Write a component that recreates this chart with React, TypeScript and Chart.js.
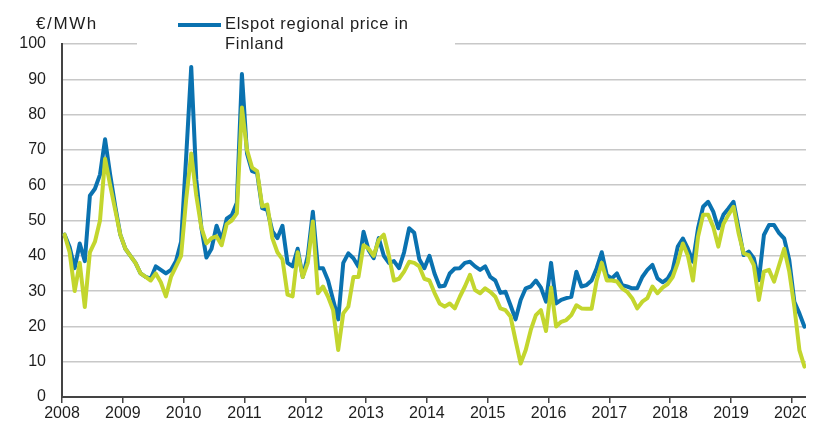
import React, { useEffect, useRef } from "react";
import { Chart, registerables } from "chart.js";

Chart.register(...registerables);

const yearTicks = ["2008", "2009", "2010", "2011", "2012", "2013", "2014", "2015", "2016", "2017", "2018", "2019", "2020"];
const yTicks = [0, 10, 20, 30, 40, 50, 60, 70, 80, 90, 100];

// Monthly averages, Jan 2008 - Mar 2020 (EUR/MWh)
const finlandPrice = [
  46, 42.5, 36.5, 43.5, 38.5, 57, 59, 63, 73, 63, 54, 46,
  42, 40, 38, 35, 34, 33.5, 37, 36, 35, 36, 38.5, 44,
  68, 93.5, 61.5, 48, 39.5, 42, 48.5, 44.5, 50.5, 51.5, 55, 91.5,
  69, 64, 63.5, 53.5, 53, 47, 45, 48.5, 38, 37, 42, 34,
  40, 52.5, 36.5, 36.5, 33, 27.5, 22, 38, 40.7, 39.3, 36.9, 46.8,
  41.6, 39.3, 45, 40, 38, 38.5, 36.5, 41, 47.8, 46.5, 39, 36.5,
  40, 35, 31.3, 31.5, 35, 36.4, 36.5, 38, 38.3, 37, 36, 37,
  34, 33, 29.5, 29.8, 26, 22, 27.5, 30.8, 31.3, 33, 31, 27,
  38, 26.5, 27.5, 28, 28.4, 35.5, 31.3, 31.7, 33, 36.5, 41, 34.5,
  33.6, 35, 31.7, 31.3, 30.8, 30.8, 34, 36, 37.4, 33.6, 32.5, 33.5,
  36, 42.6, 44.9, 42, 38.3, 47.8, 53.9, 55.3, 52.5, 47.8, 51.6, 53.4,
  55.3, 47.8, 40.2, 41.2, 39.3, 33.1, 45.9, 48.7, 48.7, 46.4, 44.9, 38.8,
  27, 23.7, 19.9,
];

const systemPrice = [
  46, 41, 30, 38, 25.5, 41, 44, 50, 67.5, 60, 53, 46,
  42, 40, 38, 35, 34, 33, 35, 32.5, 28.5, 34, 37, 40,
  56, 69, 57, 48, 43.5, 45, 45.5, 43, 49, 50, 52, 82,
  70, 65, 64, 54, 54.5, 45, 41, 39, 29, 28.5, 41, 34,
  38, 49.7, 29.4, 31.3, 28.4, 24.6, 13.3, 23.7, 25.6, 34, 34, 43,
  42, 40, 44.5, 46, 40, 33, 33.5, 35.5, 38.3, 38, 37, 33.5,
  33, 29.5, 26.5, 25.6, 26.5, 25.1, 28.4, 31.3, 34.6, 30.3, 29.4, 30.8,
  29.8, 28.4, 25.1, 24.6, 22.8, 16, 9.5, 13.3, 19, 23.2, 24.6, 18.7,
  31, 20, 21.3, 21.8, 23.2, 26, 25.1, 25, 25, 33, 38, 33,
  33, 32.7, 30.8, 29.8, 28, 25.1, 27, 28, 31.3, 29.4, 31, 32,
  34, 38, 43.5, 40, 33, 45.4, 51.6, 51.6, 48.2, 42.6, 49, 51.6,
  53.9, 46.4, 40.7, 40.2, 37.4, 27.5, 35.5, 36, 32.7, 37.4, 42, 35.5,
  25.6, 13.3, 8.6,
];

const seriesNames = ["Elspot regional price in Finland", "Elspot system price"];
const BLUE = "#0a72b0";
const GREEN = "#c3d62e";
const FONT = "'Liberation Sans', Arial, sans-serif";

// month index -> position at middle of the month (months since Jan 1 2008)
const toPoints = (arr: number[]) => arr.map((v, i) => ({ x: i + 0.5, y: v }));

export default function App() {
  const ref = useRef<HTMLCanvasElement | null>(null);

  useEffect(() => {
    if (!ref.current) return;
    const lineStyle = {
      borderWidth: 4,
      pointRadius: 0,
      tension: 0,
      borderJoinStyle: "round" as const,
      borderCapStyle: "round" as const,
    };
    const chart = new Chart(ref.current, {
      type: "line",
      data: {
        datasets: [
          {
            label: seriesNames[1],
            data: toPoints(systemPrice),
            borderColor: GREEN,
            ...lineStyle,
          },
          {
            label: seriesNames[0],
            data: toPoints(finlandPrice),
            borderColor: BLUE,
            ...lineStyle,
          },
        ],
      },
      options: {
        responsive: false,
        animation: false,
        layout: { padding: { top: 36, right: 7, left: 0, bottom: 0 } },
        plugins: {
          legend: { display: false },
          tooltip: { enabled: false },
        },
        scales: {
          x: {
            type: "linear",
            min: 0,
            max: 147,
            afterBuildTicks: (scale: any) => {
              scale.ticks = yearTicks.map((_, i) => ({ value: i * 12 }));
            },
            afterFit: (scale: any) => {
              scale.height = 28;
            },
            ticks: {
              autoSkip: false,
              maxRotation: 0,
              padding: 1,
              color: "#1e1e1e",
              font: { family: FONT, size: 16 },
              callback: (v: any) => yearTicks[Math.round(Number(v) / 12)] ?? "",
            },
            grid: {
              drawOnChartArea: false,
              drawTicks: true,
              tickLength: 6,
              color: "#444",
              lineWidth: 1.5,
            },
            border: { display: true, color: "#444", width: 2 },
          },
          y: {
            min: 0,
            max: 100,
            afterBuildTicks: (scale: any) => {
              scale.ticks = yTicks.map((v) => ({ value: v }));
            },
            afterFit: (scale: any) => {
              scale.width = 54;
            },
            ticks: {
              padding: 16,
              color: "#1e1e1e",
              font: { family: FONT, size: 16 },
            },
            grid: {
              drawTicks: false,
              color: "#c8c8c8",
              lineWidth: 1.5,
            },
            border: { display: true, color: "#444", width: 2 },
          },
        },
      },
    });
    return () => chart.destroy();
  }, []);

  return (
    <div style={{ position: "relative", width: 806, height: 417, fontFamily: FONT }}>
      <canvas ref={ref} width={806} height={417} style={{ display: "block" }} />
      <div
        style={{
          position: "absolute",
          left: 28,
          top: 6,
          fontSize: 17,
          lineHeight: "20px",
          color: "#1e1e1e",
          letterSpacing: 1.6,
          whiteSpace: "nowrap",
        }}
      >
        €/MWh
      </div>
      <div
        style={{
          position: "absolute",
          left: 129,
          top: 0,
          width: 318,
          height: 46,
          background: "#fff",
        }}
      >
        <div
          style={{
            position: "absolute",
            left: 41,
            top: 15,
            width: 43,
            height: 4,
            background: BLUE,
          }}
        />
        <div
          style={{
            position: "absolute",
            left: 88,
            top: 5,
            fontSize: 16.5,
            lineHeight: "20px",
            color: "#1e1e1e",
            letterSpacing: 0.7,
            width: 230,
          }}
        >
          Elspot regional price in
          <br />
          Finland
        </div>
      </div>
    </div>
  );
}
